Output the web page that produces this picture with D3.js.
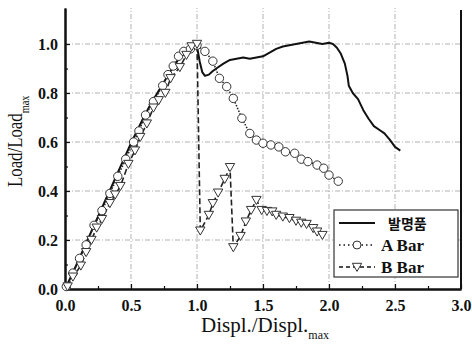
<!DOCTYPE html>
<html>
  <head>
    <meta charset="utf-8" />
    <title>Load - displacement</title>
    <style>
      body {
        background: #fff;
        margin: 0;
      }
    </style>
  </head>
  <body>
    <script src="https://cdn.jsdelivr.net/npm/d3@7"></script>
    <svg class="canvas"></svg>
    <script>
      // ---------------- data ----------------
      const xTicks = [0.0, 0.5, 1.0, 1.5, 2.0, 2.5, 3.0];
      const yTicks = [0.0, 0.2, 0.4, 0.6, 0.8, 1.0];

      const seriesNames = ["발명품", "A Bar", "B Bar"];

      // 발명품 (solid)
      const inventionX = [0, 0.05, 0.1, 0.15, 0.2, 0.25, 0.3, 0.35, 0.4, 0.45, 0.5, 0.55, 0.6, 0.65, 0.7, 0.75, 0.8, 0.85, 0.9, 0.95, 0.99, 1.0, 1.02, 1.04, 1.06, 1.09, 1.12, 1.16, 1.2, 1.25, 1.3, 1.35, 1.4, 1.45, 1.5, 1.55, 1.6, 1.65, 1.7, 1.75, 1.8, 1.85, 1.9, 1.95, 2.0, 2.03, 2.06, 2.09, 2.12, 2.14, 2.15, 2.18, 2.22, 2.26, 2.3, 2.34, 2.38, 2.42, 2.46, 2.5, 2.54];
      const inventionY = [0, 0.055, 0.115, 0.175, 0.235, 0.295, 0.355, 0.415, 0.475, 0.535, 0.595, 0.65, 0.705, 0.755, 0.8, 0.845, 0.89, 0.93, 0.96, 0.985, 1.0, 0.99, 0.93, 0.885, 0.87, 0.875, 0.89, 0.905, 0.92, 0.935, 0.94, 0.945, 0.94, 0.945, 0.95, 0.965, 0.98, 0.99, 0.995, 1.0, 1.005, 1.01, 1.005, 1.0, 1.005, 1.0, 0.985, 0.96, 0.92, 0.87, 0.83, 0.8, 0.775, 0.73, 0.695, 0.665, 0.65, 0.635, 0.61, 0.58, 0.565];

      // A Bar (circles, dotted)
      const aBarX = [0.01, 0.06, 0.11, 0.16, 0.22, 0.28, 0.34, 0.4, 0.46, 0.52, 0.56, 0.61, 0.67, 0.74, 0.78, 0.82, 0.86, 0.9, 0.95, 1.0, 1.06, 1.12, 1.17, 1.225, 1.275, 1.34, 1.4, 1.45, 1.5, 1.56, 1.62, 1.67, 1.74, 1.79, 1.84, 1.91, 1.96, 2.0, 2.07];
      const aBarY = [0.01, 0.065, 0.125, 0.18, 0.26, 0.32, 0.39, 0.46, 0.53, 0.6, 0.645, 0.71, 0.765, 0.83, 0.875, 0.91, 0.95, 0.97, 0.98, 0.995, 0.97, 0.93, 0.86, 0.826, 0.778, 0.697, 0.635, 0.608, 0.595, 0.588, 0.58, 0.56, 0.554, 0.53, 0.52, 0.506, 0.493, 0.465, 0.44];

      // B Bar (triangles, dashed)
      const bBarX = [0.02, 0.06, 0.12, 0.16, 0.2, 0.24, 0.28, 0.34, 0.38, 0.42, 0.48, 0.53, 0.57, 0.62, 0.67, 0.71, 0.76, 0.8, 0.87, 0.92, 0.96, 1.0, 1.025, 1.09, 1.12, 1.16, 1.21, 1.25, 1.275, 1.33, 1.37, 1.41, 1.45, 1.49, 1.53, 1.57, 1.6, 1.65, 1.7, 1.75, 1.79, 1.83, 1.88, 1.91, 1.95];
      const bBarY = [0.01, 0.05, 0.095, 0.15, 0.2, 0.25, 0.285, 0.35, 0.385, 0.42, 0.51, 0.565, 0.62, 0.675, 0.74, 0.77, 0.8, 0.86, 0.905, 0.955, 0.99, 1.0, 0.238, 0.302, 0.35, 0.393, 0.449, 0.497, 0.17, 0.216, 0.275, 0.322, 0.363, 0.322, 0.318, 0.316, 0.302, 0.295, 0.289, 0.278, 0.27, 0.265, 0.248, 0.234, 0.22];

      const zip = (xs, ys) => xs.map((x, i) => [x, ys[i]]);

      // ---------------- chart ----------------
      const width = 472,
        height = 350;
      const margin = { top: 8, right: 11, bottom: 61, left: 65 };

      const svg = d3
        .select(".canvas")
        .attr("width", width)
        .attr("height", height);

      const x = d3
        .scaleLinear()
        .domain([0, 3])
        .range([margin.left, width - margin.right]);
      const y = d3
        .scaleLinear()
        .domain([0, 1.147])
        .range([height - margin.bottom, margin.top]);

      //---------------- grid ----------------
      const grid = svg.append("g").attr("stroke", "#a0a0a0").attr("stroke-width", 0.8).attr("stroke-dasharray", "5,2,1,2");
      grid
        .selectAll("line.gx")
        .data(xTicks.filter((d) => d > 0 && d < 3))
        .join("line")
        .attr("x1", (d) => x(d))
        .attr("x2", (d) => x(d))
        .attr("y1", y.range()[0])
        .attr("y2", y.range()[1]);
      grid
        .selectAll("line.gy")
        .data(yTicks.filter((d) => d > 0))
        .join("line")
        .attr("class", "gy")
        .attr("x1", x.range()[0])
        .attr("x2", x.range()[1])
        .attr("y1", (d) => y(d))
        .attr("y2", (d) => y(d));

      //---------------- axes ----------------
      svg
        .append("g")
        .attr("transform", `translate(0,${y(0)})`)
        .call(d3.axisBottom(x).tickValues(xTicks).tickFormat(d3.format(".1f")).tickSizeInner(-5).tickSizeOuter(0).tickPadding(11));
      svg
        .append("g")
        .attr("transform", `translate(0,${y(0)})`)
        .call(d3.axisBottom(x).tickValues(d3.range(0.25, 3, 0.5)).tickFormat("").tickSizeInner(-3).tickSizeOuter(0));

      svg
        .append("g")
        .attr("transform", `translate(${x(0)},0)`)
        .call(d3.axisLeft(y).tickValues(yTicks).tickFormat(d3.format(".1f")).tickSizeInner(-5).tickSizeOuter(0).tickPadding(7));
      svg
        .append("g")
        .attr("transform", `translate(${x(0)},0)`)
        .call(d3.axisLeft(y).tickValues(d3.range(0.1, 1.1, 0.2)).tickFormat("").tickSizeInner(-3).tickSizeOuter(0));

      svg.selectAll(".domain").attr("stroke", "#111").attr("stroke-width", 2);
      svg.selectAll(".tick line").attr("stroke", "#111").attr("stroke-width", 1.2);
      svg
        .selectAll(".tick text")
        .attr("font-family", "Liberation Serif, serif")
        .attr("font-weight", "bold")
        .attr("font-size", 16)
        .attr("fill", "#111");

      // right frame
      svg
        .append("line")
        .attr("x1", x(3))
        .attr("x2", x(3))
        .attr("y1", y(0))
        .attr("y2", y.range()[1] + 2)
        .attr("stroke", "#111")
        .attr("stroke-width", 2);

      //---------------- titles ----------------
      const xt = svg
        .append("text")
        .attr("x", 201)
        .attr("y", 332)
        .attr("font-family", "Liberation Serif, serif")
        .attr("font-size", 21)
        .attr("fill", "#111");
      xt.append("tspan").text("Displ./Displ.");
      xt.append("tspan").attr("dy", 7).attr("font-size", 12).text("max");

      const yt = svg
        .append("text")
        .attr("transform", "translate(22,187) rotate(-90) scale(0.8,1)")
        .attr("font-family", "Liberation Serif, serif")
        .attr("font-size", 21)
        .attr("fill", "#111");
      yt.append("tspan").text("Load/Load");
      yt.append("tspan").attr("dy", 7).attr("font-size", 13).text("max");

      //---------------- series ----------------
      const line = d3
        .line()
        .x((d) => x(d[0]))
        .y((d) => y(d[1]));

      const inventionData = zip(inventionX, inventionY);
      const aBarData = zip(aBarX, aBarY);
      const bBarData = zip(bBarX, bBarY);

      svg
        .append("path")
        .datum(inventionData)
        .attr("d", line)
        .attr("fill", "none")
        .attr("stroke", "#111")
        .attr("stroke-width", 2)
        .attr("stroke-linejoin", "round");

      svg
        .append("path")
        .datum(aBarData)
        .attr("d", line)
        .attr("fill", "none")
        .attr("stroke", "#222")
        .attr("stroke-width", 1.5)
        .attr("stroke-dasharray", "1.5,1.5");

      svg
        .append("path")
        .datum(bBarData)
        .attr("d", line)
        .attr("fill", "none")
        .attr("stroke", "#222")
        .attr("stroke-width", 1.6)
        .attr("stroke-dasharray", "6,3");

      const tri = d3.symbol().type(d3.symbolTriangle).size(38);

      svg
        .append("g")
        .selectAll("circle")
        .data(aBarData)
        .join("circle")
        .attr("cx", (d) => x(d[0]))
        .attr("cy", (d) => y(d[1]))
        .attr("r", 4.2)
        .attr("fill", "white")
        .attr("stroke", "#333")
        .attr("stroke-width", 1);

      svg
        .append("g")
        .selectAll("path")
        .data(bBarData)
        .join("path")
        .attr("d", tri)
        .attr("transform", (d) => `translate(${x(d[0])},${y(d[1]) - 1}) rotate(180)`)
        .attr("fill", "white")
        .attr("stroke", "#333")
        .attr("stroke-width", 1);

      //---------------- legend ----------------
      const legend = svg.append("g").attr("transform", "translate(334,210)");
      legend
        .append("rect")
        .attr("width", 124)
        .attr("height", 67)
        .attr("fill", "white")
        .attr("stroke", "#333")
        .attr("stroke-width", 1.2);

      const rows = [
        { dash: null, w: 2, mark: null },
        { dash: "1.5,3", w: 1.5, mark: "circle" },
        { dash: "4,3", w: 1.5, mark: "tri" },
      ];
      rows.forEach((r, i) => {
        const g = legend.append("g").attr("transform", `translate(0,${13 + i * 22})`);
        g.append("line")
          .attr("x1", 5)
          .attr("x2", 41)
          .attr("stroke", "#111")
          .attr("stroke-width", r.w)
          .attr("stroke-dasharray", r.dash);
        if (r.mark === "circle") {
          g.append("circle").attr("cx", 23).attr("r", 4).attr("fill", "white").attr("stroke", "#333");
        } else if (r.mark === "tri") {
          g.append("path").attr("d", tri).attr("transform", "translate(23,-1) rotate(180)").attr("fill", "white").attr("stroke", "#333");
        }
        g.append("text")
          .attr("x", i === 0 ? 54 : 47)
          .attr("y", 6)
          .attr("font-family", i === 0 ? "Noto Sans CJK KR" : "Liberation Serif, serif")
          .attr("font-weight", i === 0 ? 600 : "bold")
          .attr("font-size", i === 0 ? 14 : 17)
          .attr("fill", "#111")
          .text(seriesNames[i]);
      });
    </script>
  </body>
</html>
